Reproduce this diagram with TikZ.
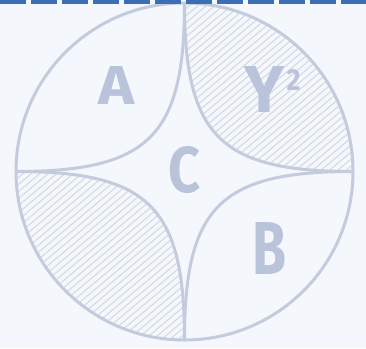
\documentclass[tikz,border=0pt]{standalone}
\usepackage{fontspec}
\setmainfont{Fira Sans}
\definecolor{bgc}{HTML}{F4F8FC}
\definecolor{lnc}{HTML}{C3CBDD}
\definecolor{htc}{HTML}{D3D8E0}
\definecolor{txc}{HTML}{B9C3D9}
\definecolor{dashc}{HTML}{3B6EB5}
\begin{document}
\begin{tikzpicture}[x=1pt,y=-1pt,
  outline/.style={draw=lnc, line width=3pt},
  hatch/.style={draw=htc, line width=1pt},
  lab/.style={text=txc, inner sep=0pt, outer sep=0pt},
  topdash/.style={draw=dashc, line width=4.5pt, dash pattern=on 26pt off 5pt}]
\fill[bgc] (0,0) rectangle (366,348);
\useasboundingbox (0,0) rectangle (366,348);
\coordinate (O) at (184.5,171.5);
\coordinate (T) at (184.5,3);
\coordinate (L) at (16,171.5);
\coordinate (Bt) at (184.5,340);
\coordinate (R) at (353,171.5);
\coordinate (cT) at (184.5,136);
\coordinate (cL) at (149,171.5);
\coordinate (cB) at (184.5,207);
\coordinate (cR) at (220,171.5);
% hatched top-right region
\begin{scope}
  \clip (O) circle[radius=168.5];
  \clip (T) .. controls (cT) and (cR) .. (R) -- (366,0) -- cycle;
  \foreach \i in {-60,...,100}
    \draw[hatch] (\i*8.4,348) -- ++(414.7,-348);
\end{scope}
% hatched bottom-left region
\begin{scope}
  \clip (O) circle[radius=168.5];
  \clip (L) .. controls (cL) and (cB) .. (Bt) -- (0,348) -- cycle;
  \foreach \i in {-60,...,100}
    \draw[hatch] (\i*8.4,348) -- ++(414.7,-348);
\end{scope}
% outlines
\draw[outline] (O) circle[radius=168.5];
\draw[outline] (T) .. controls (cT) and (cL) .. (L);
\draw[outline] (T) .. controls (cT) and (cR) .. (R);
\draw[outline] (Bt) .. controls (cB) and (cL) .. (L);
\draw[outline] (Bt) .. controls (cB) and (cR) .. (R);
% top dashed line
\coordinate (d0) at (0,1.5);
\coordinate (d1) at (366,1.5);
\draw[topdash] (d0) -- (d1);
% labels
\node[lab] (a) at (117,85) {\resizebox{36pt}{38pt}{\bfseries A}};
\node[lab] (y) at (265,89) {\resizebox{40pt}{46pt}{\bfseries Y}};
\node[lab] (two) at (293.5,80) {\resizebox{14pt}{21pt}{\bfseries 2}};
\node[lab] (c) at (184,170) {\resizebox{32pt}{46pt}{\bfseries C}};
\node[lab] (b) at (270,248) {\resizebox{34pt}{52pt}{\bfseries B}};
\end{tikzpicture}
\end{document}
